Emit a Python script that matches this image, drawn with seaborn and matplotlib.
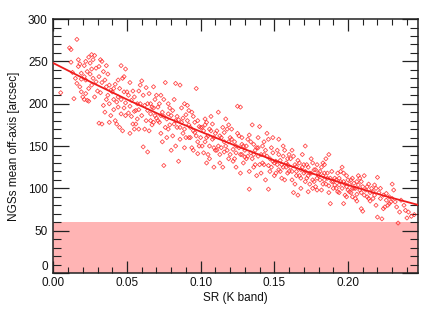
import matplotlib
matplotlib.use("Agg")
import matplotlib.pyplot as plt
from matplotlib.ticker import MultipleLocator
import seaborn as sns
import pandas as pd

sr = [
 0.005, 0.011, 0.012, 0.012, 0.014, 0.016, 0.015, 0.017, 0.018, 0.019, 0.017, 0.019, 0.013, 0.016, 0.018, 0.020, 0.019,
 0.021, 0.022, 0.023, 0.024, 0.025, 0.026, 0.027, 0.028, 0.021, 0.022, 0.023, 0.024, 0.025, 0.026, 0.027, 0.028, 0.029, 0.029, 0.022, 0.024, 0.026, 0.030, 0.021,
 0.031, 0.032, 0.033, 0.034, 0.035, 0.036, 0.037, 0.038, 0.031, 0.033, 0.035, 0.036, 0.038, 0.039, 0.040, 0.032, 0.034, 0.037, 0.039, 0.033, 0.036, 0.031, 0.038,
 0.041, 0.042, 0.043, 0.044, 0.045, 0.046, 0.047, 0.048, 0.049, 0.041, 0.042, 0.043, 0.044, 0.045, 0.046, 0.047, 0.048, 0.049, 0.050, 0.044, 0.046, 0.048, 0.041, 0.049,
 0.051, 0.052, 0.053, 0.054, 0.055, 0.056, 0.057, 0.058, 0.059, 0.060, 0.051, 0.052, 0.053, 0.054, 0.055, 0.056, 0.057, 0.058, 0.059, 0.060, 0.052, 0.055, 0.058,
 0.061, 0.064, 0.061, 0.062, 0.063, 0.064, 0.065, 0.066, 0.067, 0.068, 0.069, 0.070, 0.062, 0.063, 0.065, 0.066, 0.067, 0.068, 0.069, 0.070, 0.064, 0.066, 0.068,
 0.071, 0.072, 0.073, 0.074, 0.075, 0.075, 0.076, 0.077, 0.078, 0.079, 0.080, 0.071, 0.072, 0.073, 0.074, 0.076, 0.077, 0.078, 0.079, 0.080, 0.073, 0.075, 0.078,
 0.081, 0.082, 0.083, 0.084, 0.085, 0.086, 0.087, 0.088, 0.089, 0.090, 0.081, 0.082, 0.083, 0.084, 0.085, 0.086, 0.087, 0.088, 0.089, 0.090, 0.083, 0.086, 0.089,
 0.091, 0.092, 0.093, 0.094, 0.095, 0.096, 0.097, 0.098, 0.099, 0.100, 0.091, 0.092, 0.093, 0.094, 0.095, 0.096, 0.097, 0.098, 0.099, 0.100, 0.092, 0.095, 0.098,
 0.101, 0.102, 0.103, 0.104, 0.105, 0.106, 0.107, 0.108, 0.109, 0.110, 0.101, 0.102, 0.103, 0.104, 0.105, 0.106, 0.107, 0.108, 0.109, 0.110, 0.103, 0.106, 0.109, 0.104,
 0.111, 0.112, 0.113, 0.114, 0.115, 0.116, 0.117, 0.118, 0.119, 0.120, 0.111, 0.112, 0.113, 0.114, 0.115, 0.116, 0.117, 0.118, 0.119, 0.120, 0.113, 0.116, 0.119,
 0.121, 0.122, 0.123, 0.124, 0.125, 0.127, 0.126, 0.127, 0.128, 0.129, 0.130, 0.121, 0.122, 0.123, 0.124, 0.125, 0.126, 0.127, 0.128, 0.129, 0.130, 0.124, 0.128,
 0.131, 0.132, 0.133, 0.134, 0.135, 0.136, 0.137, 0.138, 0.139, 0.140, 0.131, 0.132, 0.133, 0.134, 0.135, 0.136, 0.137, 0.138, 0.139, 0.140, 0.133, 0.136, 0.139,
 0.141, 0.142, 0.143, 0.144, 0.145, 0.146, 0.147, 0.148, 0.149, 0.150, 0.141, 0.142, 0.143, 0.144, 0.145, 0.146, 0.147, 0.148, 0.149, 0.150, 0.143, 0.146, 0.149,
 0.151, 0.152, 0.153, 0.154, 0.155, 0.156, 0.157, 0.158, 0.159, 0.160, 0.151, 0.152, 0.153, 0.154, 0.155, 0.156, 0.157, 0.158, 0.159, 0.160, 0.153, 0.156, 0.159,
 0.161, 0.162, 0.163, 0.164, 0.165, 0.166, 0.167, 0.168, 0.169, 0.170, 0.161, 0.162, 0.163, 0.164, 0.165, 0.166, 0.167, 0.168, 0.169, 0.170, 0.162, 0.165, 0.168, 0.171,
 0.171, 0.172, 0.173, 0.174, 0.175, 0.176, 0.177, 0.178, 0.179, 0.180, 0.171, 0.172, 0.173, 0.174, 0.175, 0.176, 0.177, 0.178, 0.179, 0.180, 0.173, 0.176, 0.179,
 0.181, 0.182, 0.183, 0.184, 0.185, 0.186, 0.187, 0.188, 0.189, 0.190, 0.181, 0.182, 0.183, 0.184, 0.185, 0.186, 0.187, 0.188, 0.189, 0.190, 0.184, 0.187, 0.183,
 0.191, 0.192, 0.193, 0.194, 0.195, 0.196, 0.197, 0.198, 0.199, 0.200, 0.191, 0.192, 0.193, 0.194, 0.195, 0.196, 0.197, 0.198, 0.199, 0.200, 0.194, 0.197, 0.199,
 0.201, 0.202, 0.203, 0.204, 0.205, 0.206, 0.207, 0.208, 0.209, 0.210, 0.201, 0.202, 0.203, 0.204, 0.205, 0.206, 0.207, 0.208, 0.209, 0.210, 0.203, 0.206, 0.209,
 0.211, 0.212, 0.213, 0.214, 0.215, 0.216, 0.217, 0.218, 0.219, 0.220, 0.211, 0.213, 0.215, 0.217, 0.219, 0.220, 0.214, 0.218,
 0.221, 0.222, 0.223, 0.224, 0.225, 0.226, 0.227, 0.228, 0.229, 0.230, 0.222, 0.224, 0.226, 0.228, 0.230,
 0.231, 0.232, 0.233, 0.234, 0.235, 0.236, 0.238, 0.240, 0.241, 0.243, 0.245, 0.239,
]

off_axis = [
 213, 266, 264, 249, 206, 276, 230, 244, 220, 236, 252, 214, 237, 224, 247, 208, 229,
 245, 250, 238, 255, 248, 258, 252, 257, 205, 212, 204, 218, 235, 222, 230, 208, 242, 226, 228, 203, 241, 215, 232,
 244, 252, 250, 238, 228, 220, 210, 200, 177, 176, 190, 205, 222, 216, 214, 213, 198, 235, 186, 225, 245, 232, 178,
 218, 223, 202, 196, 218, 245, 230, 232, 241, 193, 180, 176, 208, 172, 188, 168, 195, 186, 214, 228, 205, 214, 205, 201,
 210, 197, 185, 176, 170, 192, 200, 215, 222, 227, 189, 225, 204, 215, 191, 176, 182, 170, 200, 186, 165, 208, 193,
 149, 143, 210, 198, 180, 200, 212, 188, 175, 195, 205, 183, 170, 219, 168, 200, 196, 178, 186, 210, 192, 180, 220,
 196, 178, 165, 190, 127, 205, 225, 182, 170, 195, 186, 180, 200, 186, 155, 172, 160, 200, 175, 145, 210, 185, 188,
 192, 205, 224, 185, 132, 222, 178, 165, 170, 187, 162, 176, 150, 172, 181, 158, 195, 183, 148, 160, 180, 172, 200,
 198, 175, 160, 148, 185, 166, 218, 155, 173, 160, 180, 160, 172, 190, 145, 178, 162, 180, 150, 172, 192, 168, 141,
 150, 168, 175, 160, 140, 170, 185, 158, 148, 165, 172, 142, 155, 178, 162, 135, 168, 176, 160, 145, 182, 150, 125, 130,
 168, 150, 140, 160, 172, 155, 182, 145, 135, 160, 145, 190, 162, 148, 125, 166, 150, 170, 155, 140, 130, 143, 175,
 158, 146, 135, 150, 197, 196, 162, 140, 152, 130, 145, 170, 132, 155, 142, 165, 148, 118, 160, 150, 137, 125, 140,
 150, 138, 99, 155, 175, 140, 128, 148, 160, 173, 135, 158, 120, 142, 135, 152, 145, 115, 138, 128, 163, 125, 148,
 140, 130, 155, 145, 165, 99, 135, 125, 142, 130, 118, 150, 128, 110, 138, 158, 120, 148, 132, 115, 140, 127, 160,
 132, 145, 158, 120, 128, 138, 110, 125, 135, 120, 118, 128, 140, 133, 112, 125, 145, 130, 118, 140, 122, 150, 128,
 135, 120, 95, 128, 115, 92, 130, 122, 140, 118, 125, 110, 138, 105, 126, 133, 115, 100, 125, 128, 145, 120, 112, 150,
 120, 112, 125, 105, 118, 130, 108, 122, 98, 115, 108, 128, 96, 118, 135, 110, 122, 102, 128, 118, 115, 100, 112,
 110, 125, 105, 118, 135, 112, 140, 82, 108, 100, 120, 98, 115, 128, 105, 118, 95, 112, 120, 108, 110, 103, 130,
 112, 100, 118, 95, 108, 125, 82, 105, 115, 98, 104, 110, 96, 112, 120, 100, 108, 92, 102, 110, 104, 118, 90,
 105, 95, 112, 100, 88, 108, 115, 98, 76, 102, 96, 110, 90, 106, 100, 93, 104, 112, 95, 73, 100, 85, 108,
 115, 98, 90, 105, 95, 100, 88, 92, 80, 113, 92, 102, 85, 96, 100, 66, 88, 104,
 95, 88, 64, 92, 78, 86, 80, 90, 84, 105, 100, 76, 94, 82, 88,
 98, 84, 78, 59, 72, 86, 80, 65, 72, 67, 69, 74,
]

fit_sr = [0.000, 0.025, 0.050, 0.075, 0.100, 0.125, 0.150, 0.175, 0.200, 0.225, 0.2475]
fit_off = [248.0, 226.0, 205.0, 185.0, 167.0, 149.5, 133.0, 118.0, 104.0, 91.0, 80.5]

limit_y = 60
xlim = (0.0, 0.2475)
ylim = (0, 300)

sns.set_theme(style="ticks")
plt.rcParams["font.family"] = ["Liberation Sans", "DejaVu Sans"]

fig = plt.figure(figsize=(4.36, 3.18), dpi=100)
ax = fig.add_axes([0.1223, 0.1415, 0.8364, 0.7985])

ax.axhspan(0, limit_y, color="#ffb4b4", lw=0, zorder=0)

pts = pd.DataFrame({"sr": sr, "off": off_axis})
sns.scatterplot(data=pts, x="sr", y="off", marker="D", s=4.5, facecolors="none",
                edgecolor="#ff2a2a", linewidth=0.6, alpha=0.85, ax=ax, zorder=2)

fit = pd.DataFrame({"sr": fit_sr, "off": fit_off})
sns.lineplot(data=fit, x="sr", y="off", color="#ee1c1c", lw=1.3, ax=ax, zorder=3)

ax.set_xlim(*xlim)
ax.set_ylim(*ylim)
ax.set_xticks([0.0, 0.05, 0.10, 0.15, 0.20])
ax.set_xticklabels(["0.00", "0.05", "0.10", "0.15", "0.20"])
ax.xaxis.set_minor_locator(MultipleLocator(0.01))
ax.set_yticks([0, 50, 100, 150, 200, 250, 300])
ax.set_yticklabels(["0", "50", "100", "150", "200", "250", "300"])
ax.yaxis.set_minor_locator(MultipleLocator(10))

ax.tick_params(axis="x", which="major", direction="in", length=8.5, width=0.9,
               top=True, bottom=True, labelsize=8.5, pad=3, color="#222222")
ax.tick_params(axis="x", which="minor", direction="in", length=4.5, width=0.8,
               top=True, bottom=True, color="#222222")
ax.tick_params(axis="y", which="major", direction="in", length=11.5, width=0.9,
               left=True, right=True, labelsize=8.5, pad=4, color="#222222")
ax.tick_params(axis="y", which="minor", direction="in", length=6, width=0.8,
               left=True, right=True, color="#222222")
for lab in ax.get_xticklabels() + ax.get_yticklabels():
    lab.set_color("#111111")

# the "0" y label sits just above "0.00"
ax.get_yticklabels()[0].set_verticalalignment("bottom")

for sp in ax.spines.values():
    sp.set_color("#222222")
    sp.set_linewidth(1.1)

ax.set_xlabel("SR (K band)", fontsize=8.5, labelpad=2, color="#111111")
ax.set_ylabel("NGSs mean off-axis [arcsec]", fontsize=8.5, labelpad=6, color="#111111")

fig.savefig("out.png", dpi=100)
